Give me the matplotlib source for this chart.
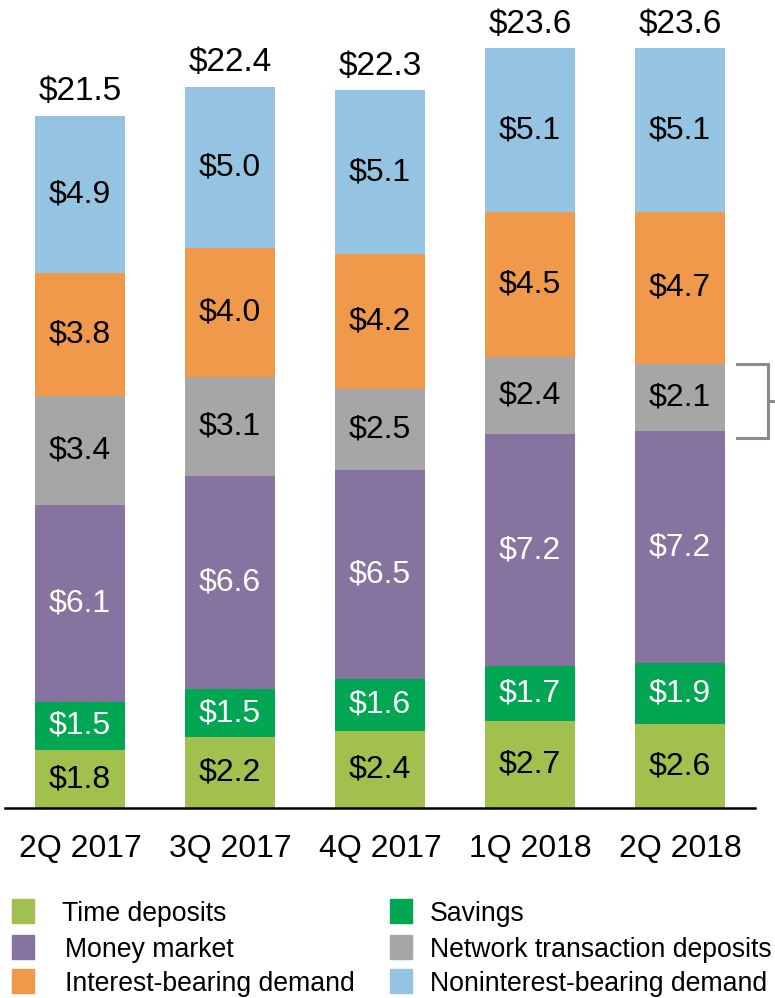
import matplotlib.pyplot as plt
from matplotlib.patches import Rectangle
import numpy as np

plt.rcParams['font.family'] = ['Liberation Sans', 'DejaVu Sans']

quarters = ["2Q 2017", "3Q 2017", "4Q 2017", "1Q 2018", "2Q 2018"]
time_dep = [1.8, 2.2, 2.4, 2.7, 2.6]
savings = [1.5, 1.5, 1.6, 1.7, 1.9]
money_mkt = [6.1, 6.6, 6.5, 7.2, 7.2]
network = [3.4, 3.1, 2.5, 2.4, 2.1]
int_demand = [3.8, 4.0, 4.2, 4.5, 4.7]
nonint_demand = [4.9, 5.0, 5.1, 5.1, 5.1]
totals = [21.5, 22.4, 22.3, 23.6, 23.6]

series = [
    ("Time deposits", time_dep, "#A1C04E", "black"),
    ("Savings", savings, "#00A651", "white"),
    ("Money market", money_mkt, "#86739F", "white"),
    ("Network transaction deposits", network, "#A6A6A6", "black"),
    ("Interest-bearing demand", int_demand, "#F0994A", "black"),
    ("Noninterest-bearing demand", nonint_demand, "#94C4E2", "black"),
]

fig = plt.figure(figsize=(7.75, 9.98), dpi=100)
ax = fig.add_axes([5 / 775, 190 / 998, 750 / 775, 805 / 998])

x = np.arange(len(quarters))
bottom = np.zeros(len(quarters))
for name, vals, color, tcolor in series:
    vals = np.array(vals)
    ax.bar(x, vals, 0.6, bottom=bottom, color=color, edgecolor="none")
    for xi, b, v in zip(x, bottom, vals):
        ax.text(xi, b + v / 2, f"${v:.1f}", ha="center", va="center",
                fontsize=23, color=tcolor)
    bottom += vals

for xi, t in zip(x, totals):
    ax.annotate(f"${t:.1f}", (xi, t), xytext=(0, 6), textcoords="offset points",
                ha="center", va="bottom", fontsize=24)

# bracket next to the last bar's network deposits
lo = time_dep[-1] + savings[-1] + money_mkt[-1]
hi = lo + network[-1]
bx = [4.38, 4.587, 4.587, 4.38]
by = [hi, hi, lo - 0.2, lo - 0.2]
ax.plot(bx, by, color="#8C8C8C", lw=2.2, clip_on=False, solid_joinstyle="miter")
ax.plot([4.587, 4.64], [(hi + lo - 0.2) / 2] * 2, color="#8C8C8C", lw=2.2, clip_on=False)

ax.set_xlim(-0.5, 4.5)
ax.set_ylim(0, 25)
ax.set_xticks(x)
ax.set_xticklabels(quarters, fontsize=23)
ax.set_yticks([])
ax.tick_params(axis="x", length=0, pad=19)
for s in ["top", "right", "left"]:
    ax.spines[s].set_visible(False)
ax.spines["bottom"].set_linewidth(1.8)

# legend, two columns
legend_order = [0, 2, 4, 1, 3, 5]
rows_y = [912, 948, 982]
text_x = [62, 65, 65]
for k, idx in enumerate(legend_order):
    name, _, color, _ = series[idx]
    col, row = divmod(k, 3)
    sx = 12 if col == 0 else 390
    tx = text_x[row] if col == 0 else 430
    yc = rows_y[row]
    fig.patches.append(Rectangle((sx / 775, 1 - (yc + 11) / 998), 22 / 775, 24 / 998,
                                 transform=fig.transFigure, color=color))
    fig.text(tx / 775, 1 - (yc + 2) / 998, name, fontsize=19.2, va="center", ha="left")

fig.savefig("out.png", dpi=100)
